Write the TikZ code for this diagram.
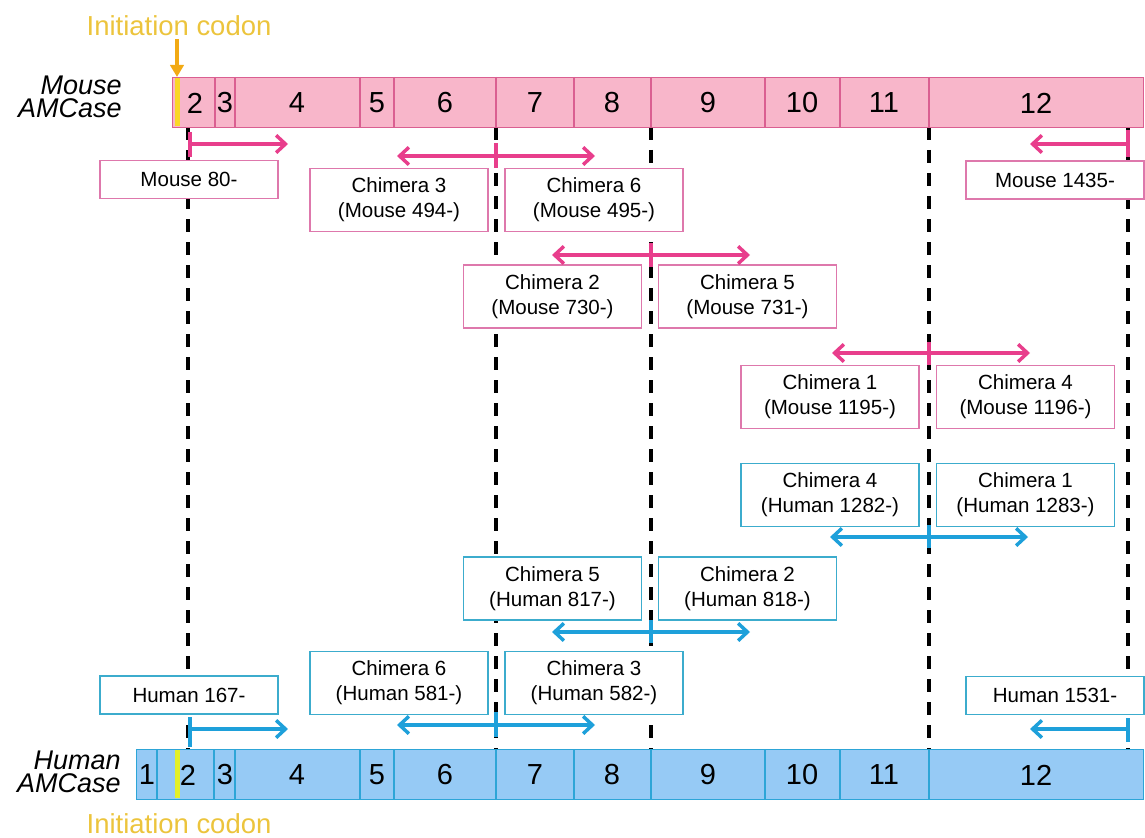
\documentclass[tikz,border=0pt]{standalone}
\usepackage{fontspec}
\setmainfont{Liberation Sans}
\usetikzlibrary{arrows.meta}
\definecolor{mfill}{RGB}{248,182,202}
\definecolor{mline}{RGB}{218,95,145}
\definecolor{marrow}{RGB}{232,62,140}
\definecolor{mbox}{RGB}{222,120,172}
\definecolor{hfill}{RGB}{150,202,245}
\definecolor{hline}{RGB}{45,165,215}
\definecolor{harrow}{RGB}{30,160,218}
\definecolor{hbox}{RGB}{60,172,205}
\definecolor{codon}{RGB}{236,196,60}
\definecolor{codonarrow}{RGB}{242,170,20}
\definecolor{ymouse}{RGB}{250,215,40}
\definecolor{yhuman}{RGB}{228,240,40}
\begin{document}
\begin{tikzpicture}[x=0.75pt,y=-0.75pt,
  >={Straight Barb[length=7pt,width=13pt]},
  bx/.style={draw,line width=1.1pt,fill=white,inner sep=0pt,minimum width=133.5pt,align=center,font=\fontsize{15.4}{18.75}\selectfont},
  mbx/.style={bx,draw=mbox},
  hbx/.style={bx,draw=hbox},
  twoline/.style={minimum height=47.25pt},
  oneline/.style={minimum height=28.5pt},
  exon/.style={inner sep=0pt,font=\fontsize{21.75}{24}\selectfont},
  lbl/.style={inner sep=0pt,align=right,font=\fontsize{20.25}{17.25}\selectfont\itshape},
  codontext/.style={inner sep=0pt,text=codon,font=\fontsize{20.6}{22}\selectfont},
  guide/.style={line width=3pt,dash pattern=on 9.75pt off 7.5pt},
  marr/.style={draw=marrow,line width=2.6pt},
  harr/.style={draw=harrow,line width=2.6pt},
  mtick/.style={draw=marrow,line width=3.4pt},
  htick/.style={draw=harrow,line width=3.4pt},
  barline/.style={line width=1.1pt}
]
\useasboundingbox (0,0) rectangle (1145,838);

% ---------- dashed guide lines ----------
\foreach \gx/\gn in {188/g1,496/g2,651/g3,929/g4,1128/g5}{
  \coordinate (\gn top) at (\gx,127);
  \coordinate (\gn bot) at (\gx,749);
  \draw[guide] (\gn top) -- (\gn bot);
}

% ---------- mouse bar ----------
\node[draw=mline,fill=mfill,barline,inner sep=0pt,minimum width=728.25pt,minimum height=37.5pt,anchor=north west] (mbar) at (172,77) {};
\foreach \x in {215,235,360,394,496,574,651,765,840,929}
  \draw[mline,barline] (\x,77) -- (\x,127);
\fill[ymouse] (175,77.8) rectangle (179.5,126.2);
\foreach \x/\n in {195/2,225/3,297/4,377/5,445/6,535/7,612/8,708/9,802/10,884/11,1036/12}
  \node[exon] (m\n) at (\x,103) {\n};

% ---------- human bar ----------
\node[draw=hline,fill=hfill,barline,inner sep=0pt,minimum width=755.25pt,minimum height=37.5pt,anchor=north west] (hbar) at (136,749) {};
\foreach \x in {157,214,235,360,394,496,574,651,765,840,929}
  \draw[hline,barline] (\x,749) -- (\x,799);
\fill[yhuman] (175,749.8) rectangle (179.5,798.2);
\foreach \x/\n in {147/1,188/2,225/3,297/4,377/5,445/6,535/7,612/8,708/9,802/10,884/11,1036/12}
  \node[exon] (h\n) at (\x,775) {\n};

% ---------- side labels ----------
\node[lbl,anchor=base east] (mlab) at (122,118) {Mouse\\AMCase};
\node[lbl,anchor=base east] (hlab) at (121,792) {Human\\AMCase};

% ---------- initiation codon ----------
\node[codontext] (icTop) at (179,26) {Initiation codon};
\node[codontext] (icBot) at (179,824) {Initiation codon};
\coordinate (icStart) at (177,39);
\coordinate (icEnd) at (177,77);
\draw[codonarrow,line width=2.6pt,-{Triangle[length=9pt,width=10pt]}] (icStart) -- (icEnd);

% ---------- mouse boxes ----------
\node[mbx,oneline] (m80) at (189,179.5) {Mouse 80-};
\node[mbx,twoline] (c3m) at (399,200) {Chimera 3\\(Mouse 494-)};
\node[mbx,twoline] (c6m) at (594,200) {Chimera 6\\(Mouse 495-)};
\node[mbx,twoline] (c2m) at (552.5,296.5) {Chimera 2\\(Mouse 730-)};
\node[mbx,twoline] (c5m) at (747.5,296.5) {Chimera 5\\(Mouse 731-)};
\node[mbx,oneline] (m1435) at (1055,180) {Mouse 1435-};
\node[mbx,twoline] (c1m) at (830,397) {Chimera 1\\(Mouse 1195-)};
\node[mbx,twoline] (c4m) at (1025.5,397) {Chimera 4\\(Mouse 1196-)};

% ---------- human boxes ----------
\node[hbx,twoline] (c4h) at (830,495) {Chimera 4\\(Human 1282-)};
\node[hbx,twoline] (c1h) at (1025.5,495) {Chimera 1\\(Human 1283-)};
\node[hbx,twoline] (c5h) at (552.5,588.5) {Chimera 5\\(Human 817-)};
\node[hbx,twoline] (c2h) at (747.5,588.5) {Chimera 2\\(Human 818-)};
\node[hbx,twoline] (c6h) at (399,683) {Chimera 6\\(Human 581-)};
\node[hbx,twoline] (c3h) at (594,683) {Chimera 3\\(Human 582-)};
\node[hbx,oneline] (h167) at (189,695) {Human 167-};
\node[hbx,oneline] (h1531) at (1055,695.5) {Human 1531-};

% ---------- mouse arrows ----------
\coordinate (ma1s) at (190,144); \coordinate (ma1e) at (288,144);
\draw[mtick] (190,132) -- (190,157);
\draw[marr,->] (ma1s) -- (ma1e);

\coordinate (ma2s) at (397,156); \coordinate (ma2e) at (595,156);
\draw[marr,<->] (ma2s) -- (ma2e);
\draw[mtick] (496,143) -- (496,168);

\coordinate (ma3s) at (552,255); \coordinate (ma3e) at (750,255);
\draw[marr,<->] (ma3s) -- (ma3e);
\draw[mtick] (651,243) -- (651,267);

\coordinate (ma4s) at (832,353); \coordinate (ma4e) at (1030,353);
\draw[marr,<->] (ma4s) -- (ma4e);
\draw[mtick] (929,342) -- (929,365);

\coordinate (ma5s) at (1128,144); \coordinate (ma5e) at (1030,144);
\draw[marr,->] (ma5s) -- (ma5e);
\draw[mtick] (1128,130) -- (1128,157);

% ---------- human arrows ----------
\coordinate (ha1s) at (830,537); \coordinate (ha1e) at (1028,537);
\draw[harr,<->] (ha1s) -- (ha1e);
\draw[htick] (929,525) -- (929,548);

\coordinate (ha2s) at (552,632); \coordinate (ha2e) at (750,632);
\draw[harr,<->] (ha2s) -- (ha2e);
\draw[htick] (651,620) -- (651,643);

\coordinate (ha3s) at (397,725); \coordinate (ha3e) at (595,725);
\draw[harr,<->] (ha3s) -- (ha3e);
\draw[htick] (496,712) -- (496,737);

\coordinate (ha4s) at (190,729); \coordinate (ha4e) at (288,729);
\draw[harr,->] (ha4s) -- (ha4e);
\draw[htick] (190,717) -- (190,747);

\coordinate (ha5s) at (1128,729); \coordinate (ha5e) at (1030,729);
\draw[harr,->] (ha5s) -- (ha5e);
\draw[htick] (1128,718) -- (1128,742);
\end{tikzpicture}
\end{document}
